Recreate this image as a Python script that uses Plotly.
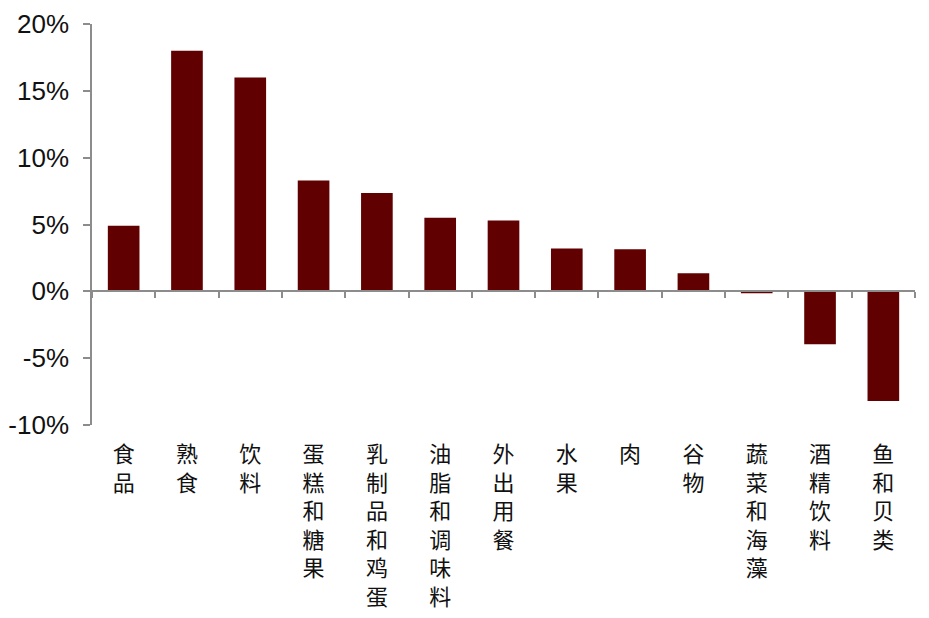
import plotly.graph_objects as go

# categories and yoy change (%)
categories = ['食品', '熟食', '饮料', '蛋糕和糖果', '乳制品和鸡蛋', '油脂和调味料',
              '外出用餐', '水果', '肉', '谷物', '蔬菜和海藻', '酒精饮料', '鱼和贝类']
values = [4.9, 18.0, 16.0, 8.3, 7.35, 5.5, 5.3, 3.2, 3.15, 1.35, -0.15, -3.95, -8.2]

y_ticks = [-10, -5, 0, 5, 10, 15, 20]
y_tick_labels = ['-10%', '-5%', '0%', '5%', '10%', '15%', '20%']

# stack the characters vertically
vert_labels = ['<br>'.join(list(c)) for c in categories]

fig = go.Figure()
fig.add_trace(go.Bar(x=categories, y=values, marker=dict(color='#600000', line=dict(width=0)),
                     width=0.5, showlegend=False))
# empty trace so the zero-line tick axis gets drawn
fig.add_trace(go.Scatter(x=categories, y=[None] * len(categories), xaxis='x2', mode='lines',
                         showlegend=False, hoverinfo='skip'))

x_range = [-0.5, len(categories) - 0.5]

fig.update_layout(
    width=929, height=618,
    margin=dict(l=84, r=22, t=16, b=201),
    plot_bgcolor='white', paper_bgcolor='white',
    font=dict(family='Liberation Sans, Arial, sans-serif', size=26, color='#111'),
    xaxis=dict(tickmode='array', tickvals=categories, ticktext=vert_labels, range=x_range,
               showline=False, ticks='', showgrid=False, zeroline=False,
               automargin=False, ticklabelstandoff=14,
               tickfont=dict(family='Noto Sans CJK SC', size=22, color='#111')),
    xaxis2=dict(overlaying='x', matches='x', anchor='free', position=1 / 3, range=x_range,
                showline=True, linecolor='#8c8c8c', linewidth=1.5,
                ticks='outside', tickson='boundaries', ticklen=6, tickcolor='#8c8c8c',
                tickwidth=1.5, showticklabels=False, showgrid=False, zeroline=False,
                automargin=False),
    yaxis=dict(range=[-10, 20], tickvals=y_ticks, ticktext=y_tick_labels,
               showline=True, linecolor='#8c8c8c', linewidth=1.5,
               ticks='outside', ticklen=7, tickcolor='#8c8c8c', tickwidth=1.5,
               ticklabelstandoff=9,
               showgrid=False, zeroline=False, automargin=False),
    bargap=0.5,
)

fig.write_html('out.html')
